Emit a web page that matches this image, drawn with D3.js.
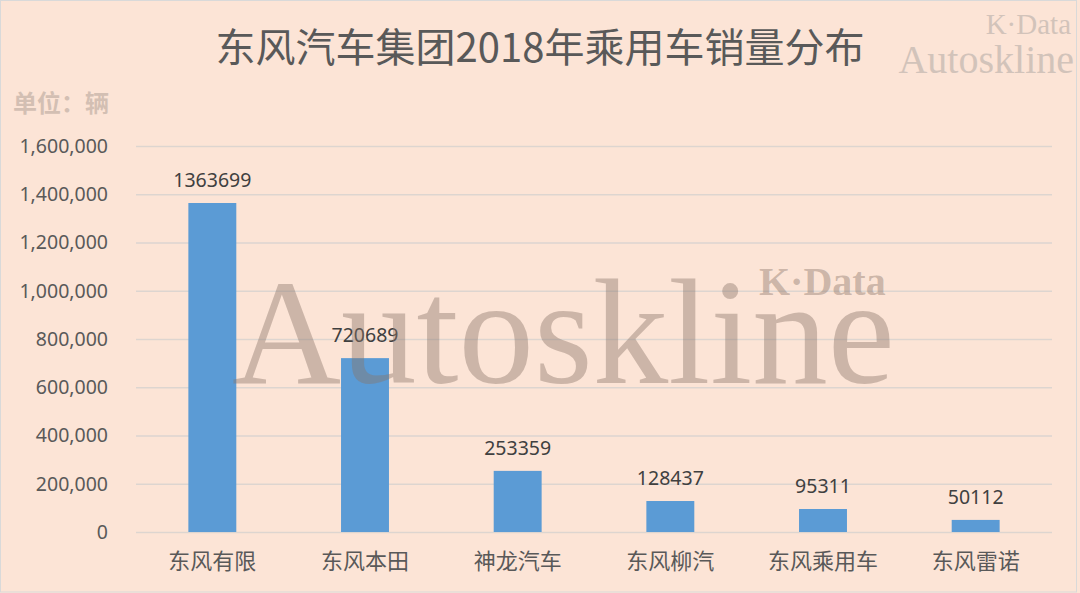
<!DOCTYPE html>
<html><head><meta charset="utf-8">
<script src="https://cdn.jsdelivr.net/npm/d3@7"></script>
<style>
html,body{margin:0;padding:0;background:#fce4d6;}
svg{display:block;}
</style></head>
<body>
<svg id="chart" width="1080" height="593"></svg>
<script>
const categories = ["东风有限","东风本田","神龙汽车","东风柳汽","东风乘用车","东风雷诺"];
const sales = [1363699, 720689, 253359, 128437, 95311, 50112];
const yTicks = [0, 200000, 400000, 600000, 800000, 1000000, 1200000, 1400000, 1600000];
const titleText = "东风汽车集团2018年乘用车销量分布";
const unitText = "单位：辆";

const svg = d3.select("#chart");
const W = 1080, H = 593;
const cjk = "'Noto Sans CJK SC','Noto Sans',sans-serif";
const num = "'Noto Sans','Open Sans',sans-serif";
const serif = "'Liberation Serif','DejaVu Serif',serif";

svg.append("rect").attr("x",0.5).attr("y",0.5).attr("width",W-4).attr("height",H-1.5)
  .attr("fill","#fce4d6").attr("stroke","#d9d9d9");

const x = d3.scaleBand().domain(categories).range([136,1052]).paddingInner(0.686).paddingOuter(0.343);
const y = d3.scaleLinear().domain([0,1600000]).range([532,146]);

// gridlines
const yAxis = d3.axisLeft(y).tickValues(yTicks).tickSize(-(1052-136)).tickPadding(28)
  .tickFormat(d3.format(","));
const gy = svg.append("g").attr("transform","translate(136,0)").call(yAxis);
gy.select(".domain").remove();
gy.selectAll(".tick line").attr("stroke","#ddd5d0").attr("stroke-width",1.5);
gy.selectAll(".tick text").attr("fill","#595959").style("font-family",num).style("font-size","19.5px");

// bars
svg.append("g").selectAll("rect").data(sales).join("rect")
  .attr("x",(d,i)=>x(categories[i])).attr("width",x.bandwidth())
  .attr("y",d=>y(d)).attr("height",d=>y(0)-y(d)).attr("fill","#5b9bd5");

// value labels
svg.append("g").selectAll("text").data(sales).join("text")
  .attr("x",(d,i)=>x(categories[i])+x.bandwidth()/2).attr("y",d=>y(d)-16)
  .attr("text-anchor","middle").attr("fill","#404040")
  .style("font-family",num).style("font-size","19.5px").text(d=>d);

// x axis labels
const xAxis = d3.axisBottom(x).tickSize(0).tickPadding(21);
const gx = svg.append("g").attr("transform","translate(0,532)").call(xAxis);
gx.select(".domain").remove();
gx.selectAll(".tick text").attr("fill","#595959").style("font-family",cjk).style("font-size","22px");

// title
svg.append("text").attr("x",540).attr("y",62).attr("text-anchor","middle")
  .attr("fill","#595959").style("font-family",cjk).style("font-size","40px")
  .text(titleText);

// unit
svg.append("text").attr("x",13).attr("y",112).attr("fill","#d3bfb3")
  .style("font-family",cjk).style("font-weight","bold").style("font-size","24px").text(unitText);

// top-right watermark
svg.append("text").attr("x",1071).attr("y",34).attr("text-anchor","end").attr("fill","#d2c3ba")
  .style("font-family",serif).style("font-size","29px").text("K·Data");
svg.append("text").attr("x",1074).attr("y",73).attr("text-anchor","end").attr("fill","#d2c3ba")
  .style("font-family",serif).style("font-size","40px").text("Autoskline");

// center watermark
svg.append("text").attr("x",232).attr("y",383).attr("fill","#8a7468").attr("fill-opacity",0.42)
  .style("font-family",serif).style("font-size","151px").text("Autoskline");
svg.append("text").attr("x",759).attr("y",295).attr("fill","#8a7468").attr("fill-opacity",0.42)
  .style("font-family",serif).style("font-weight","bold").style("font-size","40px").text("K·Data");
</script>
</body></html>
